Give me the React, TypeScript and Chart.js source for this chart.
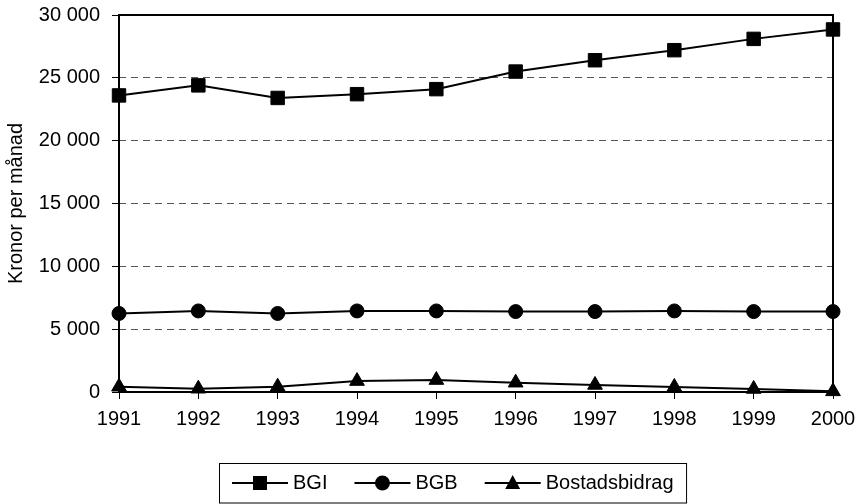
import React, { useEffect, useRef } from 'react';
import { Chart, registerables } from 'chart.js';

Chart.register(...registerables);

const years = ['1991', '1992', '1993', '1994', '1995', '1996', '1997', '1998', '1999', '2000'];
const bgi = [23600, 24400, 23400, 23700, 24100, 25500, 26400, 27200, 28100, 28850];
const bgb = [6250, 6450, 6250, 6450, 6450, 6400, 6400, 6450, 6400, 6400];
const bostadsbidrag = [420, 260, 420, 870, 950, 740, 560, 400, 240, 50];
const seriesNames = ['BGI', 'BGB', 'Bostadsbidrag'];
const pointStyles = ['rect', 'circle', 'triangle'];
const yAxisTitle = 'Kronor per månad';
const yMin = 0;
const yMax = 30000;
const yStep = 5000;

const FONT = 'Arial, "Liberation Sans", sans-serif';

function fmt(v: number): string {
  return String(v).replace(/\B(?=(\d{3})+(?!\d))/g, ' ');
}

function drawMarker(ctx: CanvasRenderingContext2D, style: string, x: number, y: number) {
  ctx.beginPath();
  if (style === 'rect') {
    ctx.rect(x - 7, y - 7, 14, 14);
  } else if (style === 'circle') {
    ctx.arc(x, y, 7.5, 0, Math.PI * 2);
  } else {
    ctx.moveTo(x, y - 8);
    ctx.lineTo(x + 7.5, y + 6);
    ctx.lineTo(x - 7.5, y + 6);
    ctx.closePath();
  }
  ctx.fill();
}

export default function App() {
  const ref = useRef<HTMLCanvasElement>(null);

  useEffect(() => {
    if (!ref.current) return;

    const framePlugin = {
      id: 'frame',
      beforeDatasetsDraw(chart: any) {
        const { ctx, chartArea: a } = chart;
        ctx.save();
        ctx.strokeStyle = '#000';
        ctx.lineWidth = 2;
        ctx.strokeRect(a.left, a.top, a.right - a.left, a.bottom - a.top);
        ctx.restore();
      },
    };

    const legendPlugin = {
      id: 'boxLegend',
      afterDraw(chart: any) {
        const ctx: CanvasRenderingContext2D = chart.ctx;
        ctx.save();
        ctx.font = `20px ${FONT}`;
        const cy = 483;
        let x = 232;
        const boxLeft = 219.5;
        const boxTop = 463.5;
        for (let i = 0; i < seriesNames.length; i++) {
          ctx.strokeStyle = '#000';
          ctx.fillStyle = '#000';
          ctx.lineWidth = 2;
          ctx.beginPath();
          ctx.moveTo(x, cy);
          ctx.lineTo(x + 56, cy);
          ctx.stroke();
          drawMarker(ctx, pointStyles[i], x + 28, cy);
          ctx.textBaseline = 'middle';
          ctx.textAlign = 'left';
          ctx.fillText(seriesNames[i], x + 61, cy);
          const w = ctx.measureText(seriesNames[i]).width;
          x = x + 61 + w + 27;
        }
        const boxRight = x - 27 + 13;
        ctx.strokeStyle = '#000';
        ctx.lineWidth = 1;
        ctx.strokeRect(boxLeft, boxTop, boxRight - boxLeft, 503 - boxTop);
        ctx.restore();
      },
    };

    const mk = (label: string, data: number[], style: string, radius: number) => ({
      label,
      data,
      borderColor: '#000',
      backgroundColor: '#000',
      borderWidth: 2,
      pointStyle: style,
      pointRadius: radius,
      pointHoverRadius: radius,
      pointBorderWidth: 1,
      pointBackgroundColor: '#000',
      pointBorderColor: '#000',
      tension: 0,
      clip: false as any,
    });

    const chart = new Chart(ref.current, {
      type: 'line',
      data: {
        labels: years,
        datasets: [
          mk(seriesNames[0], bgi, pointStyles[0], 9.5),
          mk(seriesNames[1], bgb, pointStyles[1], 7),
          mk(seriesNames[2], bostadsbidrag, pointStyles[2], 8.5),
        ],
      },
      options: {
        animation: false,
        responsive: false,
        devicePixelRatio: 1,
        events: [],
        layout: { padding: { top: 15, right: 26, left: 0, bottom: 0 } },
        plugins: {
          legend: { display: false },
          tooltip: { enabled: false },
        },
        scales: {
          x: {
            type: 'category',
            offset: false,
            grid: {
              display: true,
              drawOnChartArea: false,
              drawTicks: true,
              tickLength: 7,
              tickColor: '#000',
              tickWidth: 1,
              color: 'rgba(0,0,0,0)',
            },
            border: { display: false },
            ticks: {
              color: '#000',
              font: { family: FONT, size: 20 },
              padding: 8,
              maxRotation: 0,
              autoSkip: false,
            },
            afterFit(s: any) {
              s.height = 112;
              s.paddingLeft = 0;
              s.paddingRight = 0;
            },
          },
          y: {
            min: yMin,
            max: yMax,
            ticks: {
              stepSize: yStep,
              color: '#000',
              font: { family: FONT, size: 20 },
              padding: 12,
              callback: (v: any) => fmt(Number(v)),
            },
            grid: {
              color: (c: any) =>
                c.tick && (c.tick.value === yMin || c.tick.value === yMax) ? 'rgba(0,0,0,0)' : '#555',
              lineWidth: 1,
              tickColor: '#000',
              tickLength: 7,
              tickWidth: 1,
              tickBorderDash: [],
            },
            border: { display: false, dash: [7, 5] },
            title: {
              display: true,
              text: yAxisTitle,
              color: '#000',
              font: { family: FONT, size: 20 },
              padding: { top: 4, bottom: 0 },
            },
            afterFit(s: any) {
              s.width = 119;
              s.paddingTop = 0;
              s.paddingBottom = 0;
            },
          },
        },
      },
      plugins: [framePlugin, legendPlugin],
    });

    return () => chart.destroy();
  }, []);

  return (
    <div style={{ position: 'fixed', left: 0, top: 0, width: 859, height: 504 }}>
      <canvas ref={ref} width={859} height={504} style={{ display: 'block', width: 859, height: 504 }} />
    </div>
  );
}
